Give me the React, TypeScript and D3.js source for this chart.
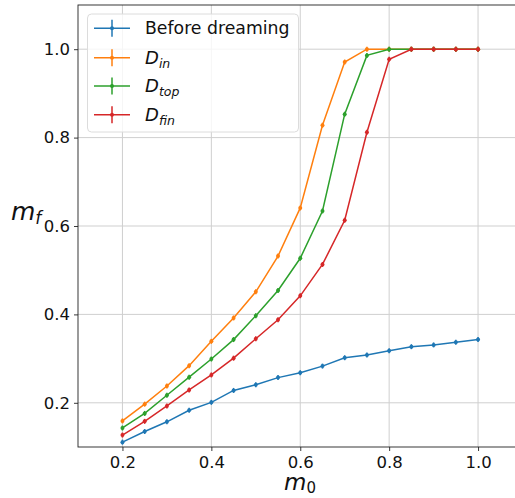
import React, { useEffect, useRef } from "react";
import * as d3 from "d3";

const m0 = [0.2, 0.25, 0.3, 0.35, 0.4, 0.45, 0.5, 0.55, 0.6, 0.65, 0.7, 0.75, 0.8, 0.85, 0.9, 0.95, 1.0];
const beforeDreaming = [0.111, 0.135, 0.157, 0.183, 0.201, 0.228, 0.241, 0.257, 0.268, 0.283, 0.302, 0.308, 0.318, 0.327, 0.331, 0.337, 0.343];
const dIn = [0.159, 0.197, 0.238, 0.284, 0.339, 0.392, 0.451, 0.532, 0.641, 0.828, 0.971, 1.0, 1.0, 1.0, 1.0, 1.0, 1.0];
const dTop = [0.143, 0.176, 0.217, 0.258, 0.299, 0.343, 0.397, 0.454, 0.527, 0.634, 0.853, 0.986, 1.0, 1.0, 1.0, 1.0, 1.0];
const dFin = [0.127, 0.158, 0.193, 0.229, 0.263, 0.301, 0.345, 0.388, 0.442, 0.513, 0.613, 0.812, 0.977, 1.0, 1.0, 1.0, 1.0];
const xTicks = [0.2, 0.4, 0.6, 0.8, 1.0];
const yTicks = [0.2, 0.4, 0.6, 0.8, 1.0];

const series = [
  { name: "Before dreaming", sub: "", values: beforeDreaming, color: "#1f77b4" },
  { name: "D", sub: "in", values: dIn, color: "#ff7f0e" },
  { name: "D", sub: "top", values: dTop, color: "#2ca02c" },
  { name: "D", sub: "fin", values: dFin, color: "#d62728" },
];

const FONT = "DejaVu Sans, sans-serif";

function App() {
  const svgRef = useRef<SVGSVGElement>(null);

  useEffect(() => {
    const svg = d3.select(svgRef.current);
    svg.selectAll("*").remove();

    const left = 78, right = 522.5, top = 5, bottom = 447;
    const x = d3.scaleLinear().domain([0.1, 1.1]).range([left, right]);
    const y = d3.scaleLinear().domain([0.1, 1.1]).range([bottom, top]);

    // grid
    const grid = svg.append("g");
    grid.selectAll(".gx").data(xTicks).join("line")
      .attr("x1", (d) => x(d)).attr("x2", (d) => x(d))
      .attr("y1", top).attr("y2", bottom)
      .attr("stroke", "#cfcfcf").attr("stroke-width", 1);
    grid.selectAll(".gy").data(yTicks).join("line")
      .attr("x1", left).attr("x2", right)
      .attr("y1", (d) => y(d)).attr("y2", (d) => y(d))
      .attr("stroke", "#cfcfcf").attr("stroke-width", 1);

    // axes
    const xAxis = d3.axisBottom(x).tickValues(xTicks).tickFormat(d3.format(".1f")).tickSize(4).tickPadding(5);
    const gx = svg.append("g").attr("transform", `translate(0,${bottom})`).call(xAxis);
    const yAxis = d3.axisLeft(y).tickValues(yTicks).tickFormat(d3.format(".1f")).tickSize(4).tickPadding(4);
    const gy = svg.append("g").attr("transform", `translate(${left},0)`).call(yAxis);
    [gx, gy].forEach((g) => {
      g.select(".domain").remove();
      g.selectAll(".tick line").attr("stroke", "#222").attr("stroke-width", 0.9);
      g.selectAll(".tick text").attr("fill", "#111").style("font-family", FONT).style("font-size", "16.5px");
    });

    // spines
    svg.append("rect")
      .attr("x", left).attr("y", top)
      .attr("width", right - left).attr("height", bottom - top)
      .attr("fill", "none").attr("stroke", "#222").attr("stroke-width", 0.9);

    // lines
    const line = d3.line<number>()
      .x((_, i) => x(m0[i]))
      .y((d) => y(d));

    series.forEach((s) => {
      const g = svg.append("g");
      g.append("path")
        .datum(s.values)
        .attr("d", line)
        .attr("fill", "none")
        .attr("stroke", s.color)
        .attr("stroke-width", 1.5);
      g.selectAll(".err").data(s.values).join("line")
        .attr("x1", (_, i) => x(m0[i])).attr("x2", (_, i) => x(m0[i]))
        .attr("y1", (d) => y(d) - 2.5).attr("y2", (d) => y(d) + 2.5)
        .attr("stroke", s.color).attr("stroke-width", 1.5);
      g.selectAll("circle").data(s.values).join("circle")
        .attr("cx", (_, i) => x(m0[i]))
        .attr("cy", (d) => y(d))
        .attr("r", 2)
        .attr("fill", s.color);
    });

    // legend
    const lg = svg.append("g");
    lg.append("rect")
      .attr("x", 87.5).attr("y", 14).attr("width", 211).attr("height", 118)
      .attr("rx", 4).attr("fill", "white").attr("fill-opacity", 0.8)
      .attr("stroke", "#dcdcdc").attr("stroke-width", 1);
    const rowY = [28.3, 57.7, 86, 114.7];
    series.forEach((s, i) => {
      const cy = rowY[i];
      lg.append("line").attr("x1", 94).attr("x2", 130).attr("y1", cy).attr("y2", cy)
        .attr("stroke", s.color).attr("stroke-width", 1.5);
      lg.append("line").attr("x1", 112).attr("x2", 112).attr("y1", cy - 8.5).attr("y2", cy + 8.5)
        .attr("stroke", s.color).attr("stroke-width", 1.5);
      lg.append("circle").attr("cx", 112).attr("cy", cy).attr("r", 2).attr("fill", s.color);
      const t = lg.append("text")
        .attr("x", 145).attr("y", cy + 6)
        .attr("fill", "#111")
        .style("font-family", FONT).style("font-size", "17.3px");
      if (s.sub) {
        t.append("tspan").style("font-style", "italic").style("font-size", "18px").text(s.name);
        t.append("tspan").attr("dy", 4).style("font-style", "italic").style("font-size", "12.5px").text(s.sub);
      } else {
        t.text(s.name);
      }
    });

    // axis labels
    const xl = svg.append("text")
      .attr("x", 284).attr("y", 490)
      .attr("fill", "#111")
      .style("font-family", FONT).style("font-size", "23px");
    xl.append("tspan").style("font-style", "italic").text("m");
    xl.append("tspan").attr("dy", 3).style("font-size", "15px").text("0");

    const yl = svg.append("text")
      .attr("x", 11).attr("y", 220)
      .attr("fill", "#111")
      .style("font-family", FONT).style("font-size", "25px");
    yl.append("tspan").style("font-style", "italic").text("m");
    yl.append("tspan").attr("dy", 4).style("font-style", "italic").style("font-size", "17px").text("f");
  }, []);

  return (
    <svg
      ref={svgRef}
      width={515}
      height={498}
      style={{ position: "absolute", left: 0, top: 0, background: "white" }}
    />
  );
}

export default App;
